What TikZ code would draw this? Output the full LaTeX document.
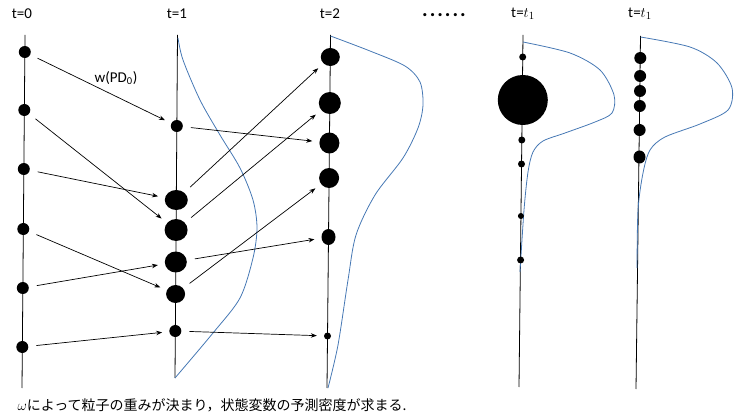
\documentclass[tikz,border=0pt]{standalone}
\usepackage{fontspec}
\setmainfont{Carlito}
\newfontfamily\jpfont{Noto Sans CJK JP}
\usetikzlibrary{arrows.meta,shapes.geometric}
\definecolor{densblue}{RGB}{70,120,180}
\begin{document}
\begin{tikzpicture}[x=1pt,y=-1pt,>={Stealth[length=6pt,width=4.5pt]}]
\useasboundingbox (0,0) rectangle (738,419);
\tikzstyle{every node}=[font=\fontsize{15}{17}\selectfont]
\tikzstyle{particle}=[ellipse,fill=black,inner sep=0pt]
\tikzset{grain/.style 2 args={particle,minimum width=#1,minimum height=#2}}
\tikzstyle{axis}=[line width=0.8pt]
\tikzstyle{density}=[densblue,line width=0.8pt]
\tikzstyle{weight}=[->,line width=0.7pt,shorten <=8pt,shorten >=7pt]
% time labels
\node (l0) at (22,14) {t=0};
\node (l1) at (177,14) {t=1};
\node (l2) at (330,14) {t=2};
\node[font=\bfseries\fontsize{21}{22}\selectfont,inner sep=0pt,text height=4pt,text depth=0pt,anchor=base] (ldots) at (444,17) {.\kern2pt.\kern2pt.\kern2pt.\kern2pt.\kern2pt.};
\node (l3) at (523,14) {t=$t_1$};
\node (l4) at (640,14) {t=$t_1$};
% axes
\coordinate (top0) at (25,35);
\coordinate (bot0) at (22,388);
\coordinate (top1) at (177.5,35);
\coordinate (bot1) at (175,378);
\coordinate (top2) at (330.5,35);
\coordinate (bot2) at (327,388);
\coordinate (top3) at (523,35);
\coordinate (bot3) at (519,387);
\coordinate (top4) at (640.5,36);
\coordinate (bot4) at (636,389);
\draw[axis] (top0) -- (bot0);
\draw[axis] (top1) -- (bot1);
\draw[axis] (top2) -- (bot2);
\draw[axis] (top3) -- (bot3);
\draw[axis] (top4) -- (bot4);
% densities
\draw[density] plot[smooth] coordinates {(178,38) (183,60) (200,100) (220,135) (240,168) (253,200) (257,228) (253,258) (240,298) (213,333) (175,378)};
\draw[density] plot[smooth] coordinates {(330.5,36) (370,51) (405,66) (420,82) (423,105) (418,128) (403,158) (375,195) (356,235) (348,280) (338,345) (328,388)};
\draw[density] plot[smooth] coordinates {(523,42) (570,53) (600,70) (614,95) (612,113) (595,122) (565,133) (543,141) (533,152) (528,172) (524,210) (520,272)};
\draw[density] plot[smooth] coordinates {(640.5,37) (690,47) (717,63) (732,88) (728,110) (700,124) (665,137) (650,150) (643,173) (638,210) (637,268)};
% particles t=0
\node[grain={12pt}{12pt}] (a1) at (24.8,52) {};
\node[grain={12pt}{12pt}] (a2) at (24.3,110) {};
\node[grain={12pt}{12pt}] (a3) at (23.8,169) {};
\node[grain={12pt}{12pt}] (a4) at (23.3,229) {};
\node[grain={12pt}{12pt}] (a5) at (22.8,288) {};
\node[grain={12pt}{12pt}] (a6) at (22.3,347) {};
% particles t=1
\node[grain={12pt}{12pt}] (b1) at (176.8,126) {};
\node[grain={23pt}{20pt}] (b2) at (176.3,200) {};
\node[grain={23pt}{22pt}] (b3) at (176.1,230) {};
\node[grain={22pt}{21pt}] (b4) at (175.8,262) {};
\node[grain={19pt}{18pt}] (b5) at (175.6,294) {};
\node[grain={12pt}{12pt}] (b6) at (175.3,331) {};
% particles t=2
\node[grain={19pt}{18pt}] (c1) at (330.3,57) {};
\node[grain={22pt}{22pt}] (c2) at (329.8,103) {};
\node[grain={20pt}{21pt}] (c3) at (329.4,143) {};
\node[grain={20pt}{20pt}] (c4) at (329.1,178) {};
\node[grain={14pt}{16pt}] (c5) at (328.5,237) {};
\node[grain={7pt}{7pt}] (c6) at (327.5,336) {};
% particles t=t1
\node[grain={7pt}{7pt}] (d1) at (522.7,57) {};
\node[grain={50pt}{50pt}] (d2) at (522.8,100) {};
\node[grain={7pt}{7pt}] (d3) at (521.8,140) {};
\node[grain={7pt}{7pt}] (d4) at (521.5,164) {};
\node[grain={6pt}{6pt}] (d5) at (520.9,216) {};
\node[grain={7pt}{7pt}] (d6) at (520.6,260) {};
% particles t=t1 after resampling
\node[grain={12pt}{12pt}] (e1) at (640.3,58) {};
\node[grain={12pt}{12pt}] (e2) at (640.1,76) {};
\node[grain={12pt}{12pt}] (e3) at (640,91) {};
\node[grain={12pt}{12pt}] (e4) at (639.8,106) {};
\node[grain={12pt}{12pt}] (e5) at (639.6,130) {};
\node[grain={12pt}{13pt}] (e6) at (639.5,157) {};
% transitions
\path[weight]
    (a1) edge (b1)
    (a2) edge (b3)
    (a3) edge (b2)
    (a4) edge (b5)
    (a5) edge (b4)
    (a6) edge (b6);
\path[weight]
    (b1) edge (c3)
    (b2) edge (c1)
    (b3) edge (c2)
    (b5) edge (c4)
    (b4) edge (c5)
    (b6) edge (c6);
\node (lw) at (116,78) {w(PD\textsubscript{0})};
\node[anchor=west,font=\fontsize{14}{16}\selectfont] (cap) at (14,405) {$\omega$\jpfont によって粒子の重みが決まり，状態変数の予測密度が求まる.};
\end{tikzpicture}
\end{document}
